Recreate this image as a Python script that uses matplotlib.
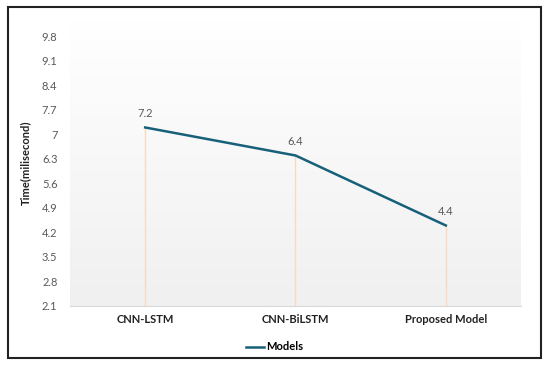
import numpy as np
import matplotlib
matplotlib.use('Agg')
import matplotlib.pyplot as plt
from matplotlib.patches import Rectangle

models = ['CNN-LSTM', 'CNN-BiLSTM', 'Proposed Model']
times = [7.2, 6.4, 4.4]
yticks = [2.1, 2.8, 3.5, 4.2, 4.9, 5.6, 6.3, 7, 7.7, 8.4, 9.1, 9.8]
ytick_labels = ['2.1', '2.8', '3.5', '4.2', '4.9', '5.6', '6.3', '7', '7.7', '8.4', '9.1', '9.8']

plt.rcParams['font.family'] = ['Lato', 'DejaVu Sans']

W, H = 550, 366
fig = plt.figure(figsize=(W / 100, H / 100), dpi=100)

# outer frame
fig.patches.append(Rectangle((8 / W, 1 - 358 / H), 533 / W, 351 / H,
                             transform=fig.transFigure, fill=False,
                             edgecolor='#222222', linewidth=1.5))

ax = fig.add_axes([70 / W, 1 - 306 / H, 451 / W, 286 / H])
ax.set_xlim(-0.5, 2.5)
ax.set_ylim(2.1, 10.27)

# background gradient, white at the top, light grey at the bottom
grad = np.linspace(1, 0, 256).reshape(-1, 1)
ax.imshow(grad, extent=[0, 1, 0, 1], transform=ax.transAxes, aspect='auto',
          cmap=matplotlib.colors.LinearSegmentedColormap.from_list('g', ['#f0f0f0', '#ffffff']),
          zorder=0)

x = np.arange(len(models))
# drop lines
ax.vlines(x, 2.1, times, color='#fbd9c0', linewidth=1, zorder=1)
ax.plot(x, times, color='#17607a', linewidth=1.8, label='Models', zorder=2)

for xi, t in zip(x, times):
    ax.annotate(f'{t}', (xi, t), xytext=(0, 6), textcoords='offset points',
                ha='center', va='bottom', fontsize=8, color='#595959')

ax.set_xticks(x)
ax.set_xticklabels(models, fontsize=8, fontweight='bold', color='#222222')
ax.set_yticks(yticks)
ax.set_yticklabels(ytick_labels, fontsize=8, color='#595959')
ax.tick_params(axis='both', length=0)
ax.tick_params(axis='x', pad=6)
ax.tick_params(axis='y', pad=9)

for s in ['top', 'right', 'left']:
    ax.spines[s].set_visible(False)
ax.spines['bottom'].set_color('#d9d9d9')

ax.set_ylabel('Time(milisecond)', fontsize=8, fontweight='bold', color='#222222', labelpad=8)

fig.legend(loc='center', bbox_to_anchor=(275 / W, 1 - 347 / H), frameon=False,
           prop={'weight': 'bold', 'size': 8}, handlelength=1.6, handletextpad=0.2)

fig.savefig('out.png', dpi=100)
